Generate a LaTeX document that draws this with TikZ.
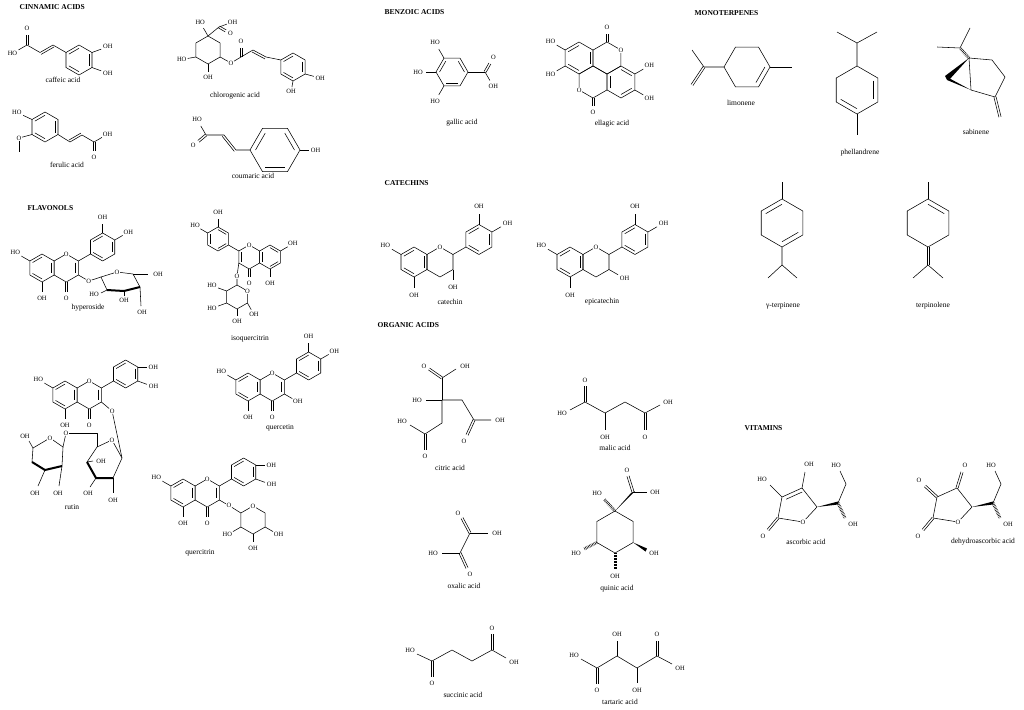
\documentclass[tikz,border=0pt]{standalone}
\usepackage{fontspec}
\setmainfont{Liberation Serif}
\usetikzlibrary{calc}
\newcommand\hexa[4]{\coordinate (#10) at #2;
 \foreach \i in {1,...,6}{\coordinate (#1\i) at ($#2+({#4+60*(\i-1)}:#3)$);}
 \draw (#11)--(#12)--(#13)--(#14)--(#15)--(#16)--cycle;}
\newcommand\dbi[3]{\draw ($(#1)!0.22!(#3)$) -- ($(#2)!0.22!(#3)$);}
\newcommand\sub[4]{\draw (#1) -- ($(#1)+(#2:{0.7*#3})$); \node[lab] at ($(#1)+(#2:{1.2*#3})$) {#4};}
\newcommand\subd[4]{\draw ($(#1)+({#2+90}:1.1)$) -- ++(#2:{0.7*#3}); \draw ($(#1)+({#2-90}:1.1)$) -- ++(#2:{0.7*#3}); \node[lab] at ($(#1)+(#2:{1.2*#3})$) {#4};}
\newcommand\dbo[2]{\draw ($#1!1.1pt!90:#2$) -- ($#2!1.1pt!-90:#1$); \draw ($#1!1.1pt!-90:#2$) -- ($#2!1.1pt!90:#1$);}
\newcommand\dbside[2]{\draw ($#1!2.2pt!90:#2$) -- ($#2!2.2pt!-90:#1$);}
\newcommand\flav[4]{\hexa{#1A}{#2}{#3}{90}
 \coordinate (#1Cc) at ($#2+({1.7321*#3},0)$);
 \hexa{#1C}{(#1Cc)}{#3}{90}
 \coordinate (#1Bc) at ($(#1C5)+(-30:{2*#3})$);
 \hexa{#1B}{(#1Bc)}{#3}{90}
 \draw (#1C5)--(#1B2);
 \dbi{#1A1}{#1A2}{#1A0}\dbi{#1A3}{#1A4}{#1A0}\dbi{#1A5}{#1A6}{#1A0}
 \dbi{#1C5}{#1C6}{#1C0}
 \dbi{#1B1}{#1B2}{#1B0}\dbi{#1B3}{#1B4}{#1B0}\dbi{#1B5}{#1B6}{#1B0}
 \subd{#1C1}{90}{#3}{O}
 \sub{#1A3}{210}{#3}{#4}
 \sub{#1A1}{90}{#3}{OH}
 \node[lab,fill=white] at (#1C4) {O};}
\newcommand\cat[4]{\hexa{#1A}{#2}{#3}{90}
 \coordinate (#1Cc) at ($#2+({1.7321*#3},0)$);
 \hexa{#1C}{(#1Cc)}{#3}{90}
 \coordinate (#1Bc) at ($(#1C5)+(-30:{2*#3})$);
 \hexa{#1B}{(#1Bc)}{#3}{90}
 \draw (#1C5)--(#1B2);
 \dbi{#1A1}{#1A2}{#1A0}\dbi{#1A3}{#1A4}{#1A0}\dbi{#1A5}{#1A6}{#1A0}
 \dbi{#1B1}{#1B2}{#1B0}\dbi{#1B3}{#1B4}{#1B0}\dbi{#1B5}{#1B6}{#1B0}
 \sub{#1A3}{210}{#3}{HO}\sub{#1A1}{90}{#3}{OH}
 \sub{#1B4}{270}{#3}{OH}\sub{#1B5}{330}{#3}{OH}
 \sub{#1C6}{#4}{#3}{OH}
 \node[lab,fill=white] at (#1C4) {O};}
\tikzset{
 lab/.style={font=\fontsize{6.5}{7}\selectfont, inner sep=0.4pt},
 captxt/.style={font=\fontsize{7.5}{8}\selectfont},
 hd/.style={font=\bfseries\fontsize{7.5}{8}\selectfont, anchor=west},
 bold/.style={line width=2pt},
 hash/.style={line width=3pt, dash pattern=on 0.5pt off 1pt}
}
\begin{document}
\begin{tikzpicture}[x=1pt,y=-1pt,line width=0.55pt,line join=round]
\useasboundingbox (0,0) rectangle (1024,709);
\fill[white] (0,0) rectangle (1024,709);
% headers
\node[hd] (h1) at (16,7) {CINNAMIC ACIDS};
\node[hd] (h2) at (24,208) {FLAVONOLS};
\node[hd] (h3) at (381,12) {BENZOIC ACIDS};
\node[hd] (h4) at (381,183) {CATECHINS};
\node[hd] (h5) at (374,325) {ORGANIC ACIDS};
\node[hd] (h6) at (691,13) {MONOTERPENES};
\node[hd] (h7) at (741,428) {VITAMINS};
% ---- caffeic
\hexa{ca}{(79,60)}{15}{90}
\dbi{ca1}{ca2}{ca0}\dbi{ca3}{ca4}{ca0}\dbi{ca5}{ca6}{ca0}
\sub{ca5}{-20}{14}{OH}\sub{ca6}{20}{14}{OH}
\coordinate (caa) at (53,45); \coordinate (cab) at (40,52.5); \coordinate (cac) at (27,45);
\draw (ca3)--(caa)--(cab)--(cac); \dbside{(caa)}{(cab)}
\subd{cac}{270}{14}{O}\sub{cac}{150}{14}{HO}
\node[captxt] (c1) at (63,80) {caffeic acid};
% ---- chlorogenic
\hexa{cg}{(208,50)}{14}{90}
\coordinate (cgC) at (219,27);
\draw (cg4)--(cgC); \sub{cg4}{240}{13}{HO}
\sub{cgC}{-20}{12}{OH}\subd{cgC}{30}{11}{O}
\sub{cg2}{170}{12}{HO}\sub{cg1}{90}{11}{OH}
\node[lab] (cgO) at (231,63) {O};
\coordinate (cgK) at (241,57); \coordinate (cga) at (253,50); \coordinate (cgb) at (266,57);
\draw (cg6)--(cgO)--(cgK)--(cga)--(cgb); \dbside{(cgb)}{(cga)}
\subd{cgK}{270}{13}{O}
\hexa{cr}{(293,67)}{14}{90}
\draw (cgb)--(cr3);
\dbi{cr1}{cr2}{cr0}\dbi{cr3}{cr4}{cr0}\dbi{cr5}{cr6}{cr0}
\sub{cr6}{15}{13}{OH}\sub{cr1}{100}{9}{OH}
\node[captxt] (c2) at (235,96) {chlorogenic acid};
% ---- ferulic
\hexa{fe}{(45,127)}{15}{90}
\dbi{fe1}{fe2}{fe0}\dbi{fe3}{fe4}{fe0}\dbi{fe5}{fe6}{fe0}
\sub{fe3}{205}{14}{HO}
\node[lab] (feO) at (19,138) {O};
\draw (fe2)--(feO); \draw (feO)--(19,152);
\coordinate (fea) at (70,142); \coordinate (feb) at (82,135); \coordinate (fec) at (94,142);
\draw (fe6)--(fea)--(feb)--(fec); \dbside{(fea)}{(feb)}
\sub{fec}{-30}{13}{OH}\subd{fec}{90}{13}{O}
\node[captxt] (c3) at (67,165) {ferulic acid};
% ---- coumaric
\hexa{co}{(275,150)}{25}{0}
\dbi{co2}{co3}{co0}\dbi{co4}{co5}{co0}\dbi{co6}{co1}{co0}
\sub{co1}{0}{13}{OH}
\coordinate (coa) at (236,150); \coordinate (cob) at (224,135); \coordinate (coc) at (206,135);
\draw (co4)--(coa)--(cob)--(coc); \dbside{(coa)}{(cob)}
\sub{coc}{240}{15}{HO}\subd{coc}{140}{14}{O}
\node[captxt] (c4) at (253,176) {coumaric acid};
% ---- hyperoside
\flav{hy}{(42,268)}{14}{HO}
\sub{hyB4}{270}{13}{OH}\sub{hyB5}{330}{13}{OH}
\node[lab] (hyO) at ($(hyC6)+(30:12)$) {O};
\coordinate (hs1) at (101,277); \coordinate (hsO) at (117,272); \coordinate (hs5) at (133,274);
\coordinate (hs4) at (140,287); \coordinate (hs3) at (124,291); \coordinate (hs2) at (107,290);
\draw (hyC6)--(hyO)--(hs1); \draw (hs1)--(hsO)--(hs5)--(hs4); \draw[bold] (hs4)--(hs3)--(hs2); \draw (hs2)--(hs1);
\node[lab,fill=white] at (hsO) {O};
\draw (hs5)--(148,274); \node[lab] at (158,274) {OH};
\draw (hs2)--(101,293); \node[lab] at (94,294) {HO};
\draw (hs3)--(124,296); \node[lab] at (124,300) {OH};
\draw (hs4)--(141,306); \node[lab] at (142,312) {OH};
\node[captxt] (c5) at (88,308) {hyperoside};
% ---- isoquercitrin (mirrored)
\begin{scope}[xscale=-1]
\flav{iq}{(-270,257)}{12}{OH}
\sub{iqB4}{270}{12}{OH}\sub{iqB5}{330}{12}{HO}
\end{scope}
\node[lab] (iqO) at (237,276) {O};
\hexa{iqs}{(237,297)}{12}{90}
\draw (iqC6)--(iqO)--(iqs4);
\node[lab,fill=white] at (iqs5) {O};
\sub{iqs3}{200}{13}{HO}\sub{iqs2}{160}{13}{HO}\sub{iqs1}{90}{10}{OH}\sub{iqs6}{60}{11}{OH}
\node[captxt] (c6) at (250,339) {isoquercitrin};
% ---- rutin
\flav{ru}{(65,395)}{14}{HO}
\sub{ruB5}{0}{13}{OH}\sub{ruB6}{20}{14}{OH}
\node[lab] (ruO) at ($(ruC6)+(40:14)$) {O};
\coordinate (r1) at (122,458); \coordinate (rO) at (112,440); \coordinate (r5) at (97,447);
\coordinate (r4) at (87,462); \coordinate (r3) at (96,478); \coordinate (r2) at (113,478);
\draw (ruC6)--(ruO)--(r1);
\draw (r5)--(rO)--(r1)--(r2); \draw[bold] (r2)--(r3)--(r4); \draw (r4)--(r5);
\node[lab,fill=white] at (rO) {O};
\node[lab] (rl) at (66,433) {O};
\draw (r5)--(97,433)--(rl);
\coordinate (l1) at (63,447); \coordinate (lO) at (50,438); \coordinate (l5) at (33,448);
\coordinate (l4) at (32,462); \coordinate (l3) at (45,470); \coordinate (l2) at (62,466);
\draw (rl)--(l1); \draw (l5)--(lO)--(l1)--(l2); \draw[bold] (l2)--(l3)--(l4); \draw (l4)--(l5);
\node[lab,fill=white] at (lO) {O};
\draw (l5)--(29,441); \node[lab] at (25,436) {OH};
\draw (l3)--(38,486); \node[lab] at (35,493) {OH};
\draw (l2)--(59,486); \node[lab] at (58,493) {OH};
\draw (r4)--(93,461); \node[lab] at (101,461) {OH};
\draw (r3)--(90,487); \node[lab] at (88,493) {OH};
\draw (r2)--(113,493); \node[lab] at (113,500) {OH};
\node[captxt] (c7) at (72,507) {rutin};
% ---- quercetin
\flav{qu}{(248,387)}{14}{HO}
\sub{quB4}{270}{13}{OH}\sub{quB5}{330}{13}{OH}\sub{quC6}{30}{13}{OH}
\node[captxt] (c8) at (280,428) {quercetin};
% ---- quercitrin
\flav{qc}{(183,493)}{14}{HO}
\sub{qcB5}{0}{13}{OH}\sub{qcB6}{20}{14}{OH}
\node[lab] (qcO) at ($(qcC6)+(30:11)$) {O};
\hexa{qs}{(253,520)}{14}{90}
\draw (qcC6)--(qcO)--(qs3);
\node[lab,fill=white] at (qs4) {O};
\sub{qs2}{150}{13}{HO}\sub{qs1}{90}{12}{OH}\sub{qs6}{30}{13}{OH}
\node[captxt] (c9) at (200,553) {quercitrin};
% ---- gallic
\hexa{ga}{(452,72)}{16}{0}
\dbi{ga2}{ga3}{ga0}\dbi{ga4}{ga5}{ga0}\dbi{ga6}{ga1}{ga0}
\sub{ga5}{240}{15}{HO}\sub{ga4}{180}{15}{HO}\sub{ga3}{120}{15}{HO}
\coordinate (gaC) at (485,72); \draw (ga1)--(gaC);
\subd{gaC}{-60}{14}{O}\sub{gaC}{60}{14}{OH}
\node[captxt] (c10) at (462,123) {gallic acid};
% ---- ellagic
\hexa{elT}{(607,58)}{16}{90}
\hexa{elL}{(579,58)}{16}{90}
\hexa{elB}{(593,82)}{16}{90}
\hexa{elR}{(621,82)}{16}{90}
\dbi{elL1}{elL2}{elL0}\dbi{elL3}{elL4}{elL0}\dbi{elL5}{elL6}{elL0}
\dbi{elR4}{elR5}{elR0}\dbi{elR6}{elR1}{elR0}\dbi{elR2}{elR3}{elR0}
\subd{elT4}{270}{12}{O}\subd{elB1}{90}{12}{O}
\node[lab,fill=white] at (elT5) {O};
\node[lab,fill=white] at (elB2) {O};
\sub{elL3}{210}{14}{HO}\sub{elL2}{150}{14}{HO}
\sub{elR5}{330}{14}{OH}\sub{elR6}{30}{14}{OH}
\node[captxt] (c11) at (612,124) {ellagic acid};
% ---- catechins
\cat{ct}{(414,262)}{15}{90}
\cat{ec}{(570,262)}{15}{30}
\node[captxt] (c12) at (450,302) {catechin};
\node[captxt] (c13) at (602,302) {epicatechin};
% ---- citric
\draw (442,400)--(442,378); \dbo{(442,378)}{(429,369)} \node[lab] at (424,366) {O};
\draw (442,378)--(456,369); \node[lab] at (465,366) {OH};
\draw (442,400)--(426,400); \node[lab] at (417,400) {HO};
\draw (442,400)--(462,400)--(474,420)--(491,420); \node[lab] at (500,420) {OH};
\dbo{(474,420)}{(467,435)} \node[lab] at (464,441) {O};
\draw (442,400)--(442,423)--(425,434)--(410,425); \node[lab] at (402,421) {HO};
\dbo{(425,434)}{(425,450)} \node[lab] at (425,456) {O};
\node[captxt] (c14) at (450,468) {citric acid};
% ---- malic
\dbo{(585,402)}{(585,386)} \node[lab] at (585,380) {O};
\draw (585,402)--(570,410); \node[lab] at (562,413) {HO};
\draw (585,402)--(605,413)--(625,402)--(645,413)--(660,405); \node[lab] at (668,402) {OH};
\draw (605,413)--(605,430); \node[lab] at (605,437) {OH};
\dbo{(645,413)}{(645,430)} \node[lab] at (645,437) {O};
\node[captxt] (c15) at (615,448) {malic acid};
% ---- oxalic
\draw (470,533)--(460,553);
\dbo{(470,533)}{(462,518)} \node[lab] at (458,513) {O};
\draw (470,533)--(488,533); \node[lab] at (497,533) {OH};
\draw (460,553)--(442,553); \node[lab] at (433,553) {HO};
\dbo{(460,553)}{(467,568)} \node[lab] at (470,574) {O};
\node[captxt] (c16) at (464,586) {oxalic acid};
% ---- quinic
\hexa{qn}{(615,532)}{21}{90}
\fill (qn4) -- (634.8,491.2) -- (631.2,492.8) -- cycle;
\coordinate (qnC) at (633,492);
\dbo{(633,492)}{(628,476)} \node[lab] at (627,470) {O};
\draw (qnC)--(647,492); \node[lab] at (655,492) {OH};
\draw[hash] (qn4)--(604,499); \node[lab] at (597,493) {HO};
\draw[hash] (qn2)--(584,549); \node[lab] at (576,553) {HO};
\draw[hash] (qn1)--(615,569); \node[lab] at (615,576) {OH};
\fill (qn6) -- (647,548.5) -- (645.5,551.5) -- cycle; \node[lab] at (654,553) {OH};
\node[captxt] (c17) at (617,589) {quinic acid};
% ---- succinic
\node[lab] at (410,650) {HO};
\draw (417,654)--(432,661)--(452,650)--(472,661)--(492,650)--(506,658); \node[lab] at (514,662) {OH};
\dbo{(432,661)}{(432,677)} \node[lab] at (432,683) {O};
\dbo{(492,650)}{(492,634)} \node[lab] at (492,628) {O};
\node[captxt] (c18) at (463,695) {succinic acid};
% ---- tartaric
\node[lab] at (574,655) {HO};
\draw (581,659)--(597,668)--(617,656)--(637,668)--(657,656)--(672,664); \node[lab] at (680,668) {OH};
\dbo{(597,668)}{(597,684)} \node[lab] at (597,690) {O};
\draw (617,656)--(617,641); \node[lab] at (617,634) {OH};
\draw (637,668)--(637,683); \node[lab] at (637,690) {OH};
\dbo{(657,656)}{(657,641)} \node[lab] at (657,634) {O};
\node[captxt] (c19) at (620,702) {tartaric acid};
% ---- limonene
\hexa{li}{(747,67)}{23}{0}
\dbi{li1}{li2}{li0}
\draw (li1)--(792,67);
\draw (li4)--(704,67)--(692,50);
\dbo{(704,67)}{(692,85)}
\node[captxt] (c20) at (741,103) {limonene};
% ---- phellandrene
\hexa{ph}{(857,90)}{24}{90}
\dbi{ph5}{ph6}{ph0}\dbi{ph1}{ph2}{ph0}
\draw (ph4)--(857,43)--(837,32); \draw (857,43)--(877,32);
\draw (ph1)--(857,135);
\node[captxt] (c21) at (860,153) {phellandrene};
% ---- sabinene
\draw (969,58)--(992,60)--(1005,77)--(995,97)--(971,90)--(969,58);
\dbo{(995,97)}{(1000,117)}
\fill (969,58) -- (945,76) -- (949,80) -- cycle;
\fill (971,90) -- (945,76) -- (947,80) -- cycle;
\draw[hash] (969,58)--(960,48);
\draw (960,48)--(937,47); \draw (960,48)--(970,28);
\node[captxt] (c22) at (976,132) {sabinene};
% ---- gamma-terpinene
\hexa{gt}{(782,223)}{24}{90}
\dbi{gt3}{gt4}{gt0}\dbi{gt6}{gt1}{gt0}
\draw (gt4)--(782,182);
\draw (gt1)--(782,265)--(768,278); \draw (782,265)--(797,278);
\node[captxt] (c23) at (783,306) {γ-terpinene};
% ---- terpinolene
\hexa{tp}{(928,223)}{24}{90}
\dbi{tp4}{tp5}{tp0}
\draw (tp4)--(928,182);
\dbo{(928,247)}{(928,265)}
\draw (928,265)--(913,278); \draw (928,265)--(943,278);
\node[captxt] (c24) at (933,306) {terpinolene};
% ---- ascorbic
\node[lab] (asO) at (803,522) {O};
\draw (778,518)--(782,497)--(802,488)--(817,507)--(asO)--(778,518);
\draw ($(782,497)!0.2!(803,508)$) -- ($(802,488)!0.2!(803,508)$);
\dbo{(778,518)}{(768,530)} \node[lab] at (763,536) {O};
\draw (782,497)--(770,485); \node[lab] at (762,479) {HO};
\draw (802,488)--(805,472); \node[lab] at (809,464) {OH};
\fill (817,507) -- (838,501.5) -- (838,504.5) -- cycle;
\draw[hash] (838,503)--(845,518); \node[lab] at (853,524) {OH};
\draw (838,503)--(846,484)--(840,471); \node[lab] at (836,465) {HO};
\node[captxt] (c25) at (806,542) {ascorbic acid};
% ---- dehydroascorbic
\node[lab] (dsO) at (958,522) {O};
\draw (933,518)--(937,497)--(957,488)--(972,507)--(dsO)--(933,518);
\dbo{(933,518)}{(923,530)} \node[lab] at (918,536) {O};
\dbo{(937,497)}{(925,486)} \node[lab] at (919,480) {O};
\dbo{(957,488)}{(962,472)} \node[lab] at (965,465) {O};
\fill (972,507) -- (993,501.5) -- (993,504.5) -- cycle;
\draw[hash] (993,503)--(1000,518); \node[lab] at (1008,524) {OH};
\draw (993,503)--(1001,484)--(995,471); \node[lab] at (991,465) {HO};
\node[captxt] (c26) at (983,542) {dehydroascorbic acid};
\end{tikzpicture}
\end{document}
